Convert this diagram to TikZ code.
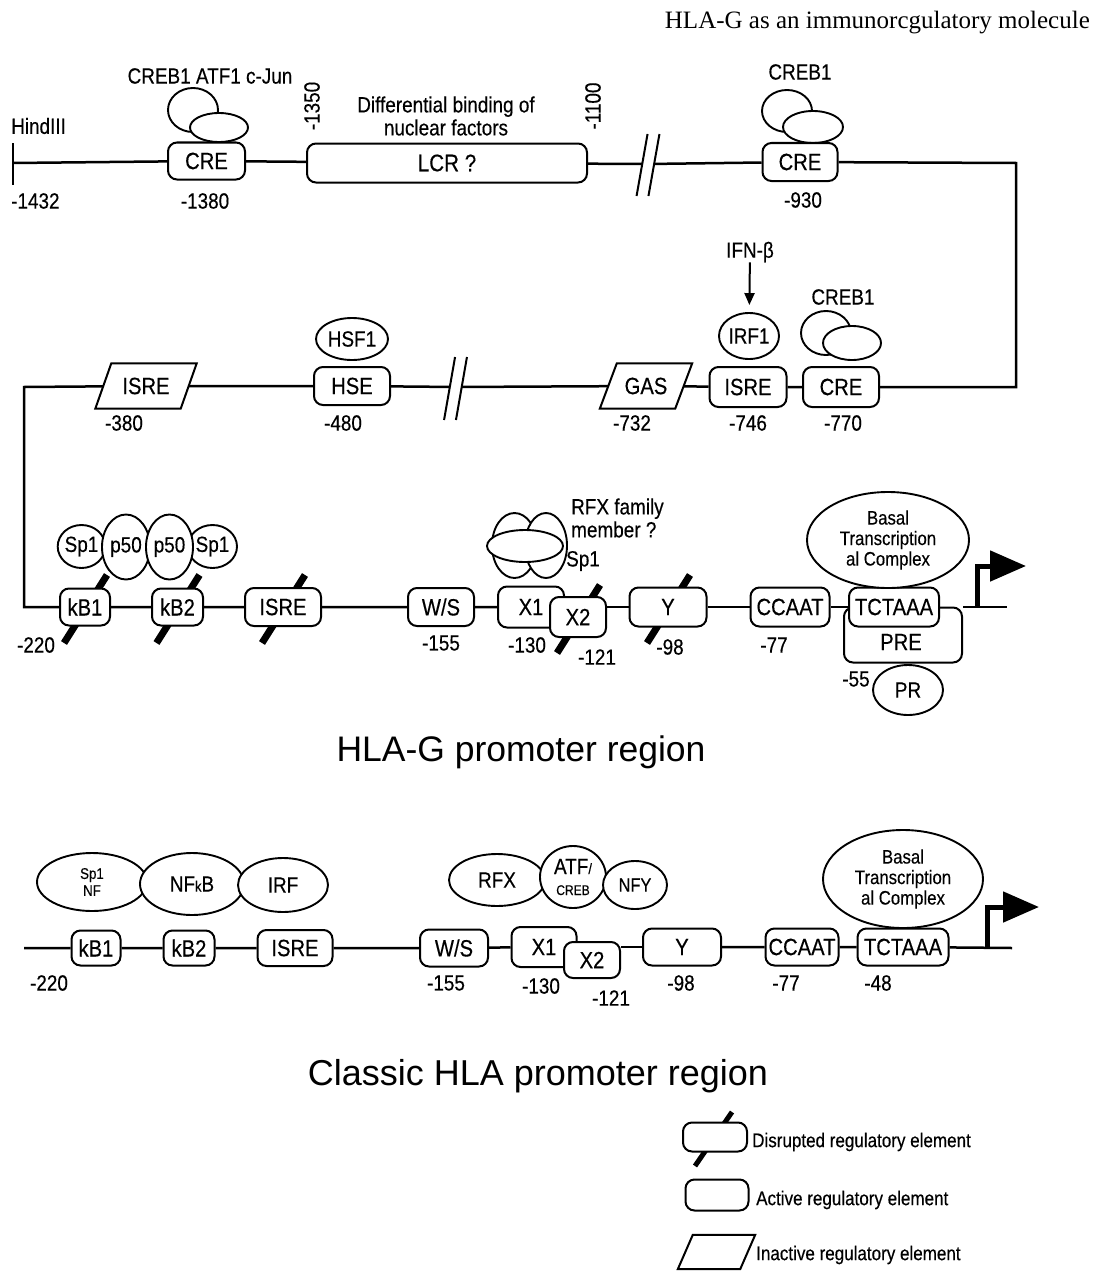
\documentclass[tikz,border=0pt]{standalone}
\usepackage{fontspec}
\setmainfont{Liberation Sans}[FakeStretch=0.86, FakeBold=0.35]
\newfontfamily\bigfont{Liberation Sans}
\newfontfamily\titlefont{Liberation Serif}
\usetikzlibrary{shapes.geometric,arrows.meta,calc}
\pgfdeclarelayer{back}
\pgfdeclarelayer{bg}
\pgfsetlayers{back,bg,main}
\newcommand{\myfs}[2]{\fontsize{#1}{#2}\selectfont}
\newcommand{\paral}[2]{\draw[line width=2pt, fill=white] ([xshift=-#2]#1.south west) -- ([xshift=-#2]#1.south east) -- ([xshift=#2]#1.north east) -- ([xshift=#2]#1.north west) -- cycle;}
\begin{document}
\begin{tikzpicture}[x=1pt,y=-1pt,
  dna/.style={line width=2.5pt},
  elem/.style={draw, line width=2pt, rounded corners=9pt, fill=white, inner sep=0pt, minimum height=38pt, font=\myfs{23.5}{26}},
  prot/.style={ellipse, draw, line width=1.9pt, fill=white, inner sep=0pt, font=\myfs{22}{25}},
  ell/.style n args={2}{prot, minimum width=#1, minimum height=#2},
  lbl/.style={inner sep=0pt, font=\myfs{22}{25}},
  cut/.style={line width=7pt},
  brk/.style={inner sep=0pt, minimum width=11.5pt, minimum height=2pt},
  pnode/.style={inner sep=0pt, font=\myfs{23.5}{26}},
  brkline/.style={line width=2pt},
  tss/.style={line width=5pt, -{Triangle[length=36pt,width=30pt]}},
  legtxt/.style={inner sep=0pt, anchor=west, font=\myfs{19.8}{22}},
]
\useasboundingbox (0,0) rectangle (1094,1271);
\begin{pgfonlayer}{back}
\fill[white] (0,0) rectangle (1094,1271);
\end{pgfonlayer}

% ---------- title ----------
\node[inner sep=0pt, anchor=east] (title) at (1090,23) {\titlefont\myfs{25}{29}HLA-G as an immunorcgulatory molecule};

% ---------- row 1 ----------
\coordinate (hind) at (13,163);
\node[lbl, anchor=west] (tHind) at (11,126) {HindIII};
\node[lbl, anchor=west] (t1432) at (11,201) {-1432};
\node[ell={50}{44}] (pA1) at (193,110) {};
\node[ell={58}{29}] (pA2) at (219,127.5) {};
\node[elem, minimum width=77pt, minimum height=37pt] (creA) at (206.5,161) {CRE};
\node[lbl] (tCrebA) at (210,76) {CREB1 ATF1 c-Jun};
\node[lbl] (t1380) at (205,201) {-1380};
\node[elem, minimum width=280pt, minimum height=39pt, font=\myfs{24}{26}] (lcr) at (447,163) {LCR ?};
\node[lbl, rotate=90] (t1350) at (312,106) {-1350};
\node[lbl, align=center, font=\myfs{22}{23}] (tDiff) at (446,116) {Differential binding of\\nuclear factors};
\node[lbl, rotate=90] (t1100) at (593,106) {-1100};
\node[brk] (brkA) at (648,164) {};
\node[ell={50}{42}] (pB1) at (787,111) {};
\node[ell={60}{32}] (pB2) at (813,127) {};
\node[elem, minimum width=75pt] (creB) at (800,162) {CRE};
\node[lbl] (tCrebB) at (800,72) {CREB1};
\node[lbl] (t930) at (803,200) {-930};
\coordinate (cR1) at (1016,163);
\coordinate (cR2) at (1016,387);

\draw[dna] ([yshift=20pt]hind) -- ([yshift=-22pt]hind);
\draw[brkline] ([shift={(-5.5,32)}]brkA.west) -- ([shift={(5.5,-30)}]brkA.west);
\draw[brkline] ([shift={(-5.5,32)}]brkA.east) -- ([shift={(5.5,-30)}]brkA.east);

% ---------- row 2 ----------
\node[ell={50}{44}] (pC1) at (826,333) {};
\node[ell={58}{34}] (pC2) at (852,343) {};
\node[elem, minimum width=76pt, minimum height=40pt] (creC) at (841,387) {CRE};
\node[lbl] (tCrebC) at (843,297) {CREB1};
\node[lbl] (t770) at (843,423) {-770};
\node[ell={60}{46}] (irf1) at (749,336) {IRF1};
\node[lbl] (ifn) at (750,252) {IFN-β};
\draw[line width=2pt, -{Triangle[length=12pt,width=10pt]}, shorten >=7pt] (ifn) -- (irf1);
\node[elem, minimum width=77pt, minimum height=40pt] (isreB) at (748,387) {ISRE};
\node[lbl] (t746) at (748,423) {-746};
\node[pnode, minimum width=75pt, minimum height=45pt] (gas) at (646,386) {GAS};
\node[lbl] (t732) at (632,423) {-732};
\node[brk] (brkB) at (455.5,387) {};
\node[ell={72}{42}] (hsf1) at (352,339) {HSF1};
\node[elem, minimum width=76pt] (hse) at (352,386) {HSE};
\node[lbl] (t480) at (343,423) {-480};
\node[pnode, minimum width=85pt, minimum height=45pt] (isreP) at (146,386) {ISRE};
\node[lbl] (t380) at (124,423) {-380};
\coordinate (cL1) at (24,387);
\coordinate (cL2) at (24,607);

\draw[brkline] ([shift={(-5.5,33)}]brkB.west) -- ([shift={(5.5,-30)}]brkB.west);
\draw[brkline] ([shift={(-5.5,33)}]brkB.east) -- ([shift={(5.5,-30)}]brkB.east);

% ---------- row 3 ----------
\node[ell={47}{43}] (sp1a) at (81.5,546.5) {Sp1};
\node[ell={49}{43}] (sp1b) at (212.5,546.5) {Sp1};
\node[ell={48}{65}] (p50a) at (126,547) {p50};
\node[ell={47}{65}] (p50b) at (169.5,547) {p50};
\node[elem, minimum width=50pt, minimum height=37pt] (kb1) at (85,607) {kB1};
\node[elem, minimum width=51pt, minimum height=37pt] (kb2) at (177.5,607) {kB2};
\node[elem, minimum width=76pt, minimum height=38pt] (isreC) at (283,607) {ISRE};
\node[elem, minimum width=66pt, minimum height=38pt] (ws) at (441,607) {W/S};
\node[ell={45}{65}] (rfxA) at (514.5,545.5) {};
\node[ell={42}{65}] (rfxB) at (546,545.5) {};
\node[ell={76}{32}] (rfxC) at (525,546) {};
\node[lbl, anchor=west, align=left, font=\myfs{22}{23}] (tRfx) at (571,518) {RFX family\\member ?};
\node[lbl, anchor=west] (tSp1) at (566,561) {Sp1};
\node[elem, minimum width=66pt, minimum height=41pt] (x1) at (531,607) {X1};
\node[elem, minimum width=56pt, minimum height=40pt] (x2) at (578,617) {X2};
\node[elem, minimum width=77pt, minimum height=39pt] (yb) at (668,607) {Y};
\node[elem, minimum width=79pt, minimum height=39pt] (ccaat) at (790,607) {CCAAT};
\node[elem, minimum width=118pt, minimum height=55pt] (pre) at (903,635) {};
\node[lbl, font=\myfs{23.5}{26}] (tPre) at (901,642) {PRE};
\node[elem, minimum width=90pt, minimum height=39pt] (tct) at (894,607) {TCTAAA};
\node[ell={162}{96}, align=center, font=\myfs{19.5}{20.5}] (basalA) at (888,540) {Basal\\Transcription\\al Complex};
\node[ell={70}{50}] (pr) at (908,690) {PR};
\node[lbl] (t55) at (856,679) {-55};
\coordinate (tssA) at (977,607);
\coordinate (tipA) at (1026,566);
\coordinate (endA) at (1007,607);
\node[lbl] (t220) at (36,645) {-220};
\node[lbl] (t155) at (441,643) {-155};
\node[lbl] (t130) at (527,645) {-130};
\node[lbl] (t121) at (597,657) {-121};
\node[lbl] (t98) at (670,647) {-98};
\node[lbl] (t77) at (774,645) {-77};

\draw[dna] (hind) -- (creA) -- (lcr) -- (brkA) -- (creB) -- (cR1) -- (cR2) -- (creC) -- (isreB) -- (gas) -- (brkB) -- (hse) -- (isreP) -- (cL1) -- (cL2) -- (kb1) -- (kb2) -- (isreC) -- (ws) -- (x1);
\draw[dna] (yb.west) -- (yb.west -| x2.east);
\draw[dna] (yb) -- (ccaat) -- (tct);
\draw[dna] (pre.east |- tct.east) -- (endA);
\draw[tss] (tssA) |- (tipA);

% ---------- HLA-G label ----------
\node[inner sep=0pt, font=\bigfont\myfs{35.5}{40}] (hlagT) at (521,752) {HLA-G promoter region};

% ---------- row 4 (classic) ----------
\node[ell={110}{58}, align=center, font=\myfs{15.5}{17}] (sp1nf) at (92,882) {Sp1\\NF};
\node[ell={104}{62}] (nfkb) at (192,884) {NF{\myfs{15}{17}k}B};
\node[ell={90}{54}] (irf) at (283,885) {IRF};
\node[ell={96}{52}] (rfx) at (497,880) {RFX};
\node[ell={66}{62}, align=center] (atf) at (573,877) {ATF{\myfs{15}{17}/}\\[-4pt]{\myfs{14}{16}CREB}};
\node[ell={64}{48}, font=\myfs{19}{21}] (nfy) at (635,885) {NFY};
\node[ell={160}{98}, align=center, font=\myfs{19.5}{20.5}] (basalB) at (903,879) {Basal\\Transcription\\al Complex};
\coordinate (st4) at (24,948);
\node[elem, minimum width=49pt, minimum height=35pt] (kb1d) at (96,948) {kB1};
\node[elem, minimum width=51pt, minimum height=35pt] (kb2d) at (189,948) {kB2};
\node[elem, minimum width=75pt, minimum height=36pt] (isreD) at (295,948) {ISRE};
\node[elem, minimum width=68pt, minimum height=37pt] (wsD) at (454,948) {W/S};
\node[elem, minimum width=65pt, minimum height=40pt] (x1D) at (544,947) {X1};
\node[elem, minimum width=56pt, minimum height=36pt] (x2D) at (592,960) {X2};
\node[elem, minimum width=78pt, minimum height=37pt] (yD) at (682,947) {Y};
\node[elem, minimum width=73pt, minimum height=37pt] (ccD) at (802,947) {CCAAT};
\node[elem, minimum width=91pt, minimum height=37pt] (tctD) at (903,947) {TCTAAA};
\coordinate (tssB) at (987,948);
\coordinate (tipB) at (1039,907);
\coordinate (endB) at (1012,948);
\node[lbl] (u220) at (49,983) {-220};
\node[lbl] (u155) at (446,983) {-155};
\node[lbl] (u130) at (541,986) {-130};
\node[lbl] (u121) at (611,998) {-121};
\node[lbl] (u98) at (681,983) {-98};
\node[lbl] (u77) at (786,983) {-77};
\node[lbl] (u48) at (878,983) {-48};

\draw[dna] (st4) -- (kb1d) -- (kb2d) -- (isreD) -- (wsD) -- (x1D);
\draw[dna] (yD.west) -- (yD.west -| x2D.east);
\draw[dna] (yD) -- (ccD) -- (tctD) -- (endB);
\draw[tss] (tssB) |- (tipB);

\node[inner sep=0pt, font=\bigfont\myfs{36}{40}] (classicT) at (538,1076) {Classic HLA promoter region};

% ---------- legend ----------
\node[elem, minimum width=64pt, minimum height=29pt] (legD) at (715,1137) {};
\node[legtxt] (legDt) at (752,1142) {Disrupted regulatory element};
\node[elem, minimum width=63pt, minimum height=31pt] (legA) at (717,1195) {};
\node[legtxt] (legAt) at (756,1200) {Active regulatory element};
\node[inner sep=0pt, minimum width=62pt, minimum height=34pt] (legI) at (716.5,1252) {};
\node[legtxt] (legIt) at (756,1255) {Inactive regulatory element};

% ---------- background: slashes and parallelograms ----------
\begin{pgfonlayer}{bg}
\foreach \n in {kb1,kb2,isreC,x2,yb} {
  \draw[cut] ([shift={(-21,36)}]\n.center) -- ([shift={(22,-32)}]\n.center);
}
\draw[line width=5pt] ([shift={(-20,29)}]legD.center) -- ([shift={(17,-25)}]legD.center);
\paral{isreP}{8pt}
\paral{gas}{8.5pt}
\paral{legI}{7.5pt}
\end{pgfonlayer}
\end{tikzpicture}
\end{document}
